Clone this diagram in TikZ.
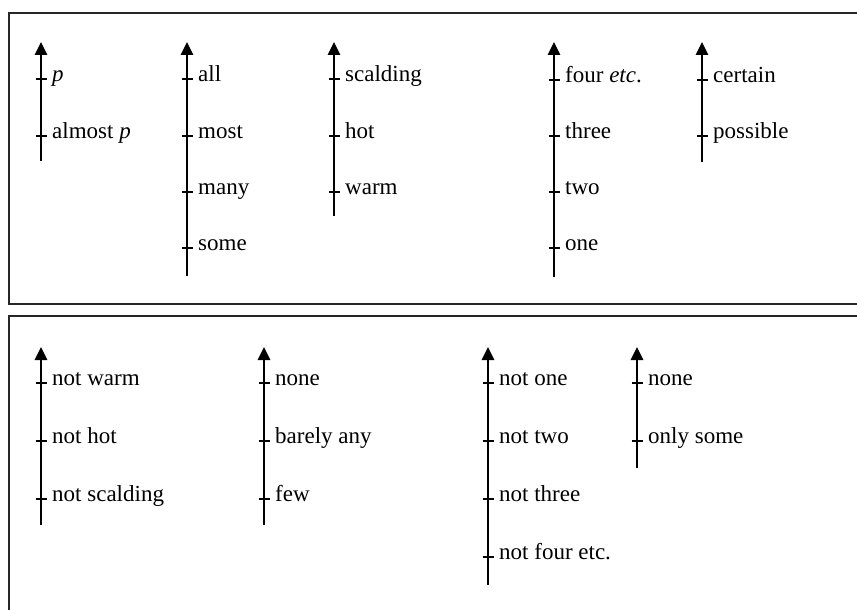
\documentclass[tikz,border=0pt]{standalone}
\usepackage{fontspec}
\setmainfont{Liberation Serif}
\usetikzlibrary{arrows.meta}
\begin{document}
\begin{tikzpicture}[x=1pt,y=-1pt,
  frame/.style={line width=1.6pt,black!85},
  scaleaxis/.style={line width=2.8pt,-{Triangle[width=12pt,length=13pt]}},
  tickmark/.style={line width=1.6pt},
  lbl/.style={anchor=mid west,inner sep=0pt,font=\fontsize{23}{27}\selectfont}]
\useasboundingbox (0,0) rectangle (857,610);
% frames
\draw[frame] (857,13) -- (9,13) -- (9,304) -- (857,304);
\draw[frame] (857,316) -- (9,316) -- (9,611);
% top panel
\foreach \nm/\x/\ybot/\labels in {
  a/41/161/{79/{\textit{p}},136/{almost \textit{p}}},
  b/187/276/{79/all,136/most,192/many,248/some},
  c/334/216/{79/scalding,136/hot,192/warm},
  d/554/277/{80/{four \textit{etc}.},136/three,192/two,248/one},
  e/702/162/{80/certain,136/possible}}{
  \coordinate (\nm bot) at (\x,\ybot);
  \coordinate (\nm top) at (\x,42);
  \draw[scaleaxis] (\nm bot) -- (\nm top);
  \foreach \y/\t [count=\i] in \labels {
    \coordinate (\nm t\i) at (\x,\y);
    \draw[tickmark] ([xshift=-5.5pt]\nm t\i) -- ([xshift=5.5pt]\nm t\i);
    \node[lbl] (\nm l\i) at ([xshift=11pt]\nm t\i) {\t};
  }
}
% bottom panel
\foreach \nm/\x/\ybot/\labels in {
  f/41/525/{383/not warm,441/not hot,499/not scalding},
  g/264/525/{383/none,441/barely any,499/few},
  h/488/585/{383/not one,441/not two,499/not three,557/not four etc.},
  k/637/468/{383/none,441/only some}}{
  \coordinate (\nm bot) at (\x,\ybot);
  \coordinate (\nm top) at (\x,347);
  \draw[scaleaxis] (\nm bot) -- (\nm top);
  \foreach \y/\t [count=\i] in \labels {
    \coordinate (\nm t\i) at (\x,\y);
    \draw[tickmark] ([xshift=-5.5pt]\nm t\i) -- ([xshift=5.5pt]\nm t\i);
    \node[lbl] (\nm l\i) at ([xshift=11pt]\nm t\i) {\t};
  }
}
\end{tikzpicture}
\end{document}
